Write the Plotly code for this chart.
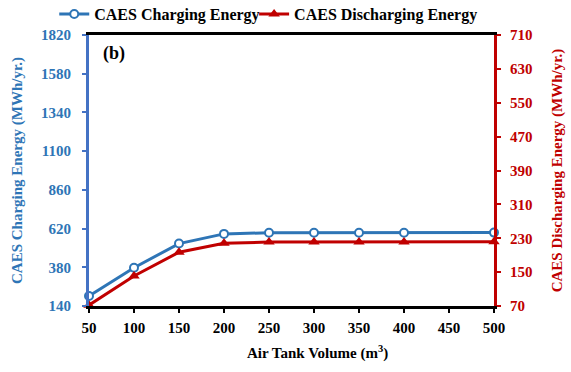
import plotly.graph_objects as go

# Air tank volume (m3) and annual CAES energies (MWh/yr.)
tank_volume = [50, 100, 150, 200, 250, 300, 350, 400, 450, 500]
charging_energy = [202, 377, 527, 587, 594, 594, 594, 594, None, 595]
discharging_energy = [72, 141, 197, 218, 221, 221, 221, 221, None, 222]

# plotted points (450 has no measurement)
vol_pts = [v for v, c in zip(tank_volume, charging_energy) if c is not None]
chg_pts = [c for c in charging_energy if c is not None]
dis_pts = [d for d in discharging_energy if d is not None]

left_ticks = [140, 380, 620, 860, 1100, 1340, 1580, 1820]
right_ticks = [70, 150, 230, 310, 390, 470, 550, 630, 710]
x_ticks = [50, 100, 150, 200, 250, 300, 350, 400, 450, 500]

BLUE = "#2E75B6"
AXBLUE = "#4472C4"
RED = "#C00000"
FONT = "Liberation Serif"


def serif_label(text):
    return f'<span style="font-family:Liberation Serif"><b>{text}</b></span>'


fig = go.Figure()
fig.add_trace(go.Scatter(
    x=vol_pts, y=chg_pts, name=serif_label("CAES Charging Energy"), legend="legend",
    mode="lines+markers", cliponaxis=False,
    line=dict(color=BLUE, width=3),
    marker=dict(symbol="circle", size=8, color="white", line=dict(color=BLUE, width=2)),
))
fig.add_trace(go.Scatter(
    x=vol_pts, y=dis_pts, name=serif_label("CAES Discharging Energy"), yaxis="y2", legend="legend2",
    mode="lines+markers", cliponaxis=False,
    line=dict(color=RED, width=3),
    marker=dict(symbol="triangle-up", size=10, color=RED),
))


def legend_box(x):
    return dict(
        orientation="h", x=x, xanchor="left", xref="container",
        y=0.962, yanchor="middle", yref="container",
        font=dict(family=FONT, size=16, color="black"),
        bgcolor="rgba(0,0,0,0)", itemwidth=30)


fig.update_layout(
    width=571, height=372,
    margin=dict(l=89, r=77, t=35, b=66, autoexpand=False),
    paper_bgcolor="white", plot_bgcolor="white",
    font=dict(family=FONT, size=15, color="black"),
    showlegend=True,
    legend=legend_box(0.095),
    legend2=legend_box(0.445),
    xaxis=dict(range=[50, 500], tickvals=x_ticks, ticktext=[f"<b>{v}</b>" for v in x_ticks],
               showline=True, linecolor="black", linewidth=2.5, mirror=True,
               ticks="outside", ticklen=4, tickwidth=2, tickcolor="black",
               showgrid=False, zeroline=False, ticklabelstandoff=2,
               tickfont=dict(family=FONT, size=15, color="black")),
    yaxis=dict(range=[140, 1820], tickvals=left_ticks, ticktext=[f"<b>{v}</b>" for v in left_ticks],
               showline=True, linecolor=AXBLUE, linewidth=3,
               ticks="outside", ticklen=4, tickwidth=2, tickcolor=AXBLUE,
               showgrid=False, zeroline=False, ticklabelstandoff=8,
               tickfont=dict(family=FONT, size=15, color=BLUE),
               title=dict(text="<b>CAES Charging Energy (MWh/yr.)</b>", standoff=15,
                          font=dict(family=FONT, size=15, color=BLUE))),
    yaxis2=dict(range=[70, 710], tickvals=right_ticks, ticktext=[f"<b>{v}</b>" for v in right_ticks],
                overlaying="y", side="right",
                showline=True, linecolor=RED, linewidth=3,
                ticks="outside", ticklen=4, tickwidth=2, tickcolor=RED,
                showgrid=False, zeroline=False, ticklabelstandoff=6,
                tickfont=dict(family=FONT, size=15, color=RED),
                title=dict(text="<b>CAES Discharging Energy (MWh/yr.)</b>", standoff=20,
                           font=dict(family=FONT, size=15, color=RED))),
    annotations=[
        dict(text="<b>(b)</b>", xref="paper", yref="paper", x=0.03, y=0.93,
             xanchor="left", yanchor="middle", showarrow=False,
             font=dict(family=FONT, size=18, color="black")),
        dict(text="<b>Air Tank Volume (m<sup>3</sup>)</b>", xref="paper", yref="paper",
             x=0.565, y=-0.17, xanchor="center", yanchor="middle", showarrow=False,
             font=dict(family=FONT, size=15, color="black")),
    ],
)

fig.write_html("out.html")
